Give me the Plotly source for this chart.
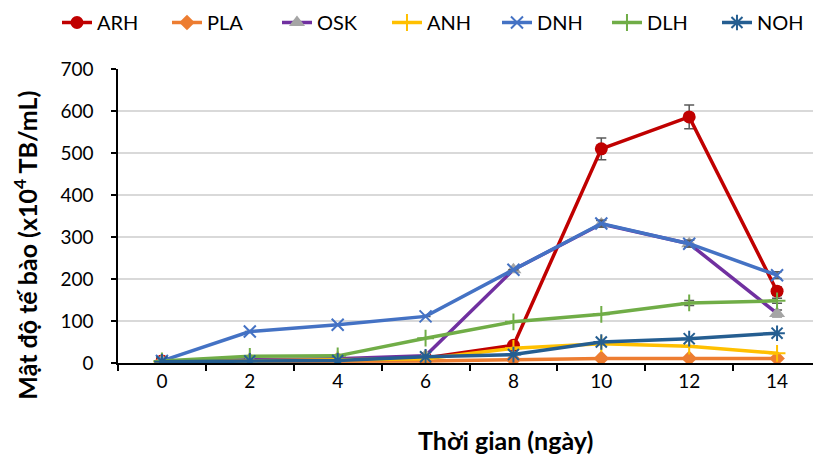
import plotly.graph_objects as go

days = ["0", "2", "4", "6", "8", "10", "12", "14"]

arh = [5, 5, 8, 12, 42, 510, 586, 171]
pla = [3, 3, 3, 5, 8, 11, 11, 11]
osk = [5, 8, 10, 17, 222, 331, 284, 118]
anh = [3, 5, 8, 10, 35, 46, 40, 23]
dnh = [5, 75, 91, 111, 222, 332, 284, 209]
dlh = [5, 16, 17, 59, 98, 116, 143, 148]
noh = [3, 5, 6, 15, 20, 50, 58, 71]

arh_err = [0, 0, 0, 0, 0, 26, 28, 10]
osk_err = [0, 0, 0, 0, 0, 8, 8, 8]
dnh_err = [0, 0, 0, 0, 0, 8, 8, 8]
dlh_err = [0, 0, 0, 0, 0, 0, 6, 6]

x_title = "<b>Thời gian (ngày)</b>"
y_title = "<b>Mật độ tế bào (x10<sup>4</sup> TB/mL)</b>"

series = [
    ("ARH", arh, "#c00000", dict(symbol="circle", size=13, color="#c00000"), arh_err),
    ("PLA", pla, "#ed7d31", dict(symbol="diamond", size=12, color="#ed7d31"), None),
    ("OSK", osk, "#7030a0", dict(symbol="triangle-up", size=14, color="#a5a5a5"), osk_err),
    ("ANH", anh, "#ffc000", dict(symbol="cross-thin", size=12, line=dict(color="#ffc000", width=2)), None),
    ("DNH", dnh, "#4472c4", dict(symbol="x-thin", size=12, line=dict(color="#4472c4", width=2)), dnh_err),
    ("DLH", dlh, "#70ad47", dict(symbol="cross-thin", size=12, line=dict(color="#70ad47", width=2)), dlh_err),
    ("NOH", noh, "#255e91", dict(symbol="asterisk", size=13, line=dict(color="#255e91", width=2)), None),
]

fig = go.Figure()
for name, vals, col, mk, err in series:
    kw = {}
    if err is not None:
        kw["error_y"] = dict(type="data", array=err, visible=True, color="#595959", thickness=1.5, width=5)
    fig.add_trace(go.Scatter(x=days, y=vals, name=name, mode="lines+markers",
                             line=dict(color=col, width=3.5), marker=mk, **kw))

font = "Lato, 'Open Sans', sans-serif"
W, H = 813, 447
fig.update_layout(
    width=W, height=H,
    margin=dict(l=110, r=0, t=61, b=92, autoexpand=False),
    paper_bgcolor="white", plot_bgcolor="white",
    font=dict(family=font, size=19, color="black"),
    legend=dict(orientation="h", x=-0.0868, xanchor="left", y=1.2245, yanchor="top",
                font=dict(size=20), entrywidth=65, entrywidthmode="pixels", tracegroupgap=0),
    xaxis=dict(type="category", range=[-0.5, 7.5], tickson="boundaries",
               ticks="outside", ticklen=6, tickwidth=1.5, tickcolor="black",
               showline=True, linecolor="black", linewidth=2, showgrid=False),
    yaxis=dict(range=[0, 700], dtick=100, ticks="outside", ticklen=5, tickwidth=1.5,
               tickcolor="black", showline=True, linecolor="black", linewidth=1.5,
               gridcolor="#d9d9d9", gridwidth=1.5, zeroline=False, ticklabelstandoff=14),
    annotations=[
        dict(text=x_title, xref="paper", yref="paper", x=0.5505, y=-0.262,
             xanchor="center", yanchor="middle", showarrow=False, font=dict(size=25)),
        dict(text=y_title, xref="paper", yref="paper", x=-0.1315, y=0.401,
             xanchor="center", yanchor="middle", showarrow=False, textangle=-90,
             font=dict(size=25)),
    ],
)

fig.write_html("out.html")
